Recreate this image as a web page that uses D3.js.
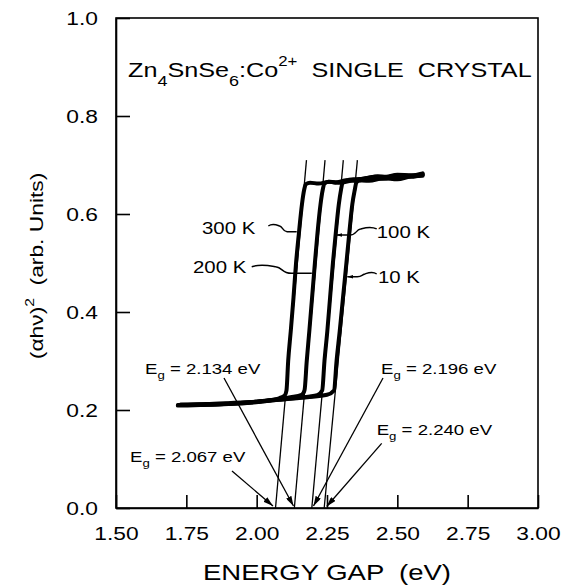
<!DOCTYPE html>
<html><head><meta charset="utf-8">
<script src="https://cdn.jsdelivr.net/npm/d3@7"></script>
<style>
html,body{margin:0;padding:0;background:#fff;}
svg text{font-family:"Liberation Sans", Arial, Helvetica, sans-serif; fill:#000; white-space:pre;}
</style></head><body>
<svg id="chart" width="573" height="588"></svg>
<script>
// ---------- data ----------
const xTicks = [1.50, 1.75, 2.00, 2.25, 2.50, 2.75, 3.00];
const xTickLabels = ["1.50", "1.75", "2.00", "2.25", "2.50", "2.75", "3.00"];
const yTicks = [0.0, 0.2, 0.4, 0.6, 0.8, 1.0];
const yTickLabels = ["0.0", "0.2", "0.4", "0.6", "0.8", "1.0"];
const xTitle = "ENERGY GAP  (eV)";
const temperatures = ["300 K", "200 K", "100 K", "10 K"];

// (energy eV, (alpha h nu)^2 arb. units)
const curve300K = [
  [1.72,0.209],[1.80,0.210],[1.90,0.212],[1.98,0.215],[2.04,0.219],[2.08,0.224],[2.100,0.230],
  [2.106,0.240],[2.112,0.300],[2.121,0.360],[2.131,0.430],[2.140,0.500],[2.150,0.560],[2.161,0.620],[2.169,0.650],[2.175,0.661],
  [2.190,0.664],[2.22,0.662],[2.26,0.666],[2.30,0.664],[2.35,0.669],[2.40,0.668],[2.45,0.673],[2.50,0.671],[2.55,0.677],[2.59,0.678]
];
const curve200K = [
  [1.72,0.210],[1.80,0.211],[1.90,0.213],[2.00,0.217],[2.06,0.221],[2.12,0.226],[2.160,0.231],
  [2.170,0.240],[2.178,0.300],[2.187,0.360],[2.197,0.430],[2.207,0.500],[2.216,0.560],[2.227,0.620],[2.235,0.650],[2.241,0.662],
  [2.255,0.666],[2.28,0.664],[2.32,0.669],[2.36,0.668],[2.40,0.673],[2.45,0.672],[2.50,0.677],[2.55,0.676],[2.59,0.680]
];
const curve100K = [
  [1.73,0.210],[1.80,0.211],[1.90,0.213],[2.00,0.217],[2.08,0.221],[2.15,0.225],[2.215,0.230],
  [2.233,0.240],[2.241,0.300],[2.251,0.360],[2.261,0.430],[2.271,0.500],[2.281,0.560],[2.292,0.620],[2.300,0.650],[2.305,0.663],
  [2.318,0.668],[2.35,0.671],[2.38,0.672],[2.42,0.676],[2.46,0.675],[2.50,0.679],[2.55,0.678],[2.59,0.681]
];
const curve10K = [
  [1.73,0.211],[1.82,0.212],[1.90,0.214],[2.00,0.217],[2.10,0.222],[2.18,0.226],[2.25,0.231],
  [2.275,0.240],[2.284,0.300],[2.295,0.360],[2.307,0.430],[2.319,0.500],[2.329,0.560],[2.340,0.620],[2.349,0.650],[2.354,0.664],
  [2.368,0.671],[2.40,0.674],[2.43,0.677],[2.46,0.676],[2.50,0.680],[2.55,0.679],[2.59,0.683]
];
const curves = [curve300K, curve200K, curve100K, curve10K];

// extrapolated band gaps and the upper end of each tangent line
const bandGaps = [2.067, 2.134, 2.196, 2.240];
const bandGapText = ["2.067", "2.134", "2.196", "2.240"];
const tangentTopEnergy = [2.177, 2.243, 2.308, 2.358];
const tangentTopValue = 0.71;

// ---------- annotation placement (data units) ----------
const tempLabelAt = [[1.8057,0.5602],[1.7737,0.479],[2.4267,0.5504],[2.4313,0.4586]];
const leaderFrom  = [[2.0414,0.5755],[1.9824,0.4924],[2.4267,0.5694],[2.4267,0.4776]];
const leaderTo    = [[2.1423,0.5639],[2.1960,0.4790],[2.2826,0.5570],[2.3220,0.4720]];
const gapLabelAt  = [[1.5498,0.0945],[1.6030,0.2735],[2.4420,0.2735],[2.4267,0.149]];
const gapArrowFrom= [[1.9123,0.0755],[1.8839,0.2653],[2.4491,0.2653],[2.4444,0.132]];
const gapArrowTo  = [[2.058,0.0041],[2.1309,0.004],[2.202,0.004],[2.249,0.003]];

// ---------- drawing ----------
const W = 573, H = 588;
const margin = {top: 18, right: 35, bottom: 80, left: 116};
const SX = 1.2; // horizontal stretch of lettering in the original
const svg = d3.select("#chart");
const x = d3.scaleLinear().domain([1.5, 3.0]).range([margin.left, W - margin.right]);
const y = d3.scaleLinear().domain([0, 1]).range([H - margin.bottom, margin.top]);

const defs = svg.append("defs");
defs.append("marker").attr("id","arr").attr("viewBox","0 0 10 6").attr("refX",10).attr("refY",3)
  .attr("markerWidth",10).attr("markerHeight",6).attr("markerUnits","userSpaceOnUse").attr("orient","auto")
  .append("path").attr("d","M0,0L10,3L0,6Z").attr("fill","#000");
defs.append("marker").attr("id","arrS").attr("viewBox","0 0 10 6").attr("refX",10).attr("refY",3)
  .attr("markerWidth",6).attr("markerHeight",4).attr("markerUnits","userSpaceOnUse").attr("orient","auto")
  .append("path").attr("d","M0,0L10,3L0,6Z").attr("fill","#000");

// frame
svg.append("rect").attr("x", x(1.5)).attr("y", y(1)).attr("width", x(3) - x(1.5)).attr("height", y(0) - y(1))
  .attr("fill","none").attr("stroke","#000").attr("stroke-width",1.6);

// axes
const gx = svg.append("g").attr("transform",`translate(0,${y(0)})`)
  .call(d3.axisBottom(x).tickValues(xTicks).tickSizeInner(-13).tickSizeOuter(0).tickFormat((d,i)=>xTickLabels[i]));
gx.attr("font-family",null).attr("font-size",19);
gx.select(".domain").attr("stroke","#000").attr("stroke-width",1.6);
gx.selectAll(".tick line").attr("stroke","#000").attr("stroke-width",1.6);
gx.selectAll(".tick text").attr("y",32).attr("dy",null).attr("transform",`scale(${SX},1)`);

const gy = svg.append("g").attr("transform",`translate(${x(1.5)},0)`)
  .call(d3.axisLeft(y).tickValues(yTicks).tickSizeInner(-14).tickSizeOuter(0).tickFormat((d,i)=>yTickLabels[i]));
gy.attr("font-family",null).attr("font-size",19);
gy.select(".domain").attr("stroke","#000").attr("stroke-width",1.6);
gy.selectAll(".tick line").attr("stroke","#000").attr("stroke-width",1.6);
gy.selectAll(".tick text").attr("x",-18/SX).attr("transform",`scale(${SX},1)`);

// axis titles
svg.append("text").attr("transform",`translate(${(x(1.5)+x(3))/2},580) scale(${SX + 0.05},1)`)
  .attr("text-anchor","middle").attr("font-size",22).text(xTitle);
const yt = svg.append("text").attr("transform",`translate(43,${y(0.494)}) rotate(-90) scale(${SX},1)`)
  .attr("text-anchor","middle").attr("font-size",19);
yt.append("tspan").text("(\u03B1h\u03BD)");
yt.append("tspan").attr("font-size",13).attr("dy",-9).text("2");
yt.append("tspan").attr("dy",9).text("  (arb. Units)");

// chart title
const tt = svg.append("text").attr("transform",`translate(128,77) scale(${SX},1)`).attr("font-size",21);
tt.append("tspan").text("Zn");
tt.append("tspan").attr("font-size",15).attr("dy",9).text("4");
tt.append("tspan").attr("dy",-9).text("SnSe");
tt.append("tspan").attr("font-size",15).attr("dy",9).text("6");
tt.append("tspan").attr("dy",-9).text(":Co");
tt.append("tspan").attr("font-size",14).attr("dy",-11).text("2+");
tt.append("tspan").attr("dy",11).text("  SINGLE  CRYSTAL");

// tangent lines
svg.append("g").selectAll("line").data(bandGaps).join("line")
  .attr("x1",d=>x(d)).attr("y1",y(0))
  .attr("x2",(d,i)=>x(tangentTopEnergy[i])).attr("y2",y(tangentTopValue))
  .attr("stroke","#000").attr("stroke-width",1.3);

// curves
const line = d3.line().x(d=>x(d[0])).y(d=>y(d[1])).curve(d3.curveMonotoneX);
svg.append("g").selectAll("path").data(curves).join("path")
  .attr("d", line).attr("fill","none").attr("stroke","#000").attr("stroke-width",4)
  .attr("stroke-linejoin","round").attr("stroke-linecap","round");

// temperature labels with wavy leaders
function wiggle(p0, p1) {
  const dx = p1[0]-p0[0], y0 = p0[1], y1 = p1[1];
  return `M${p0[0]},${y0} C${p0[0]+dx*0.15},${y0-3} ${p0[0]+dx*0.3},${y0-1} ${p0[0]+dx*0.4},${y0}`+
         ` C${p0[0]+dx*0.52},${y0+1} ${p0[0]+dx*0.5},${y1} ${p0[0]+dx*0.66},${y1} L${p1[0]},${y1}`;
}
temperatures.forEach((t,i)=>{
  svg.append("text").attr("transform",`translate(${x(tempLabelAt[i][0])},${y(tempLabelAt[i][1])}) scale(${SX},1)`)
    .attr("font-size",17).text(t);
  const p0 = [x(leaderFrom[i][0]), y(leaderFrom[i][1])];
  const p1 = [x(leaderTo[i][0]), y(leaderTo[i][1])];
  svg.append("path").attr("d", wiggle(p0,p1)).attr("fill","none").attr("stroke","#000").attr("stroke-width",1.4)
    .attr("marker-end", i>=2 ? "url(#arrS)" : null);
});

// band gap labels and arrows
bandGaps.forEach((g,i)=>{
  const tx = svg.append("text").attr("transform",`translate(${x(gapLabelAt[i][0])},${y(gapLabelAt[i][1])}) scale(${SX},1)`)
    .attr("font-size",15.5);
  tx.append("tspan").text("E");
  tx.append("tspan").attr("font-size",11).attr("dy",5).text("g");
  tx.append("tspan").attr("dy",-5).text(" = " + bandGapText[i] + " eV");
  svg.append("line")
    .attr("x1",x(gapArrowFrom[i][0])).attr("y1",y(gapArrowFrom[i][1]))
    .attr("x2",x(gapArrowTo[i][0])).attr("y2",y(gapArrowTo[i][1]))
    .attr("stroke","#000").attr("stroke-width",1.3).attr("marker-end","url(#arr)");
});
</script>
</body></html>
